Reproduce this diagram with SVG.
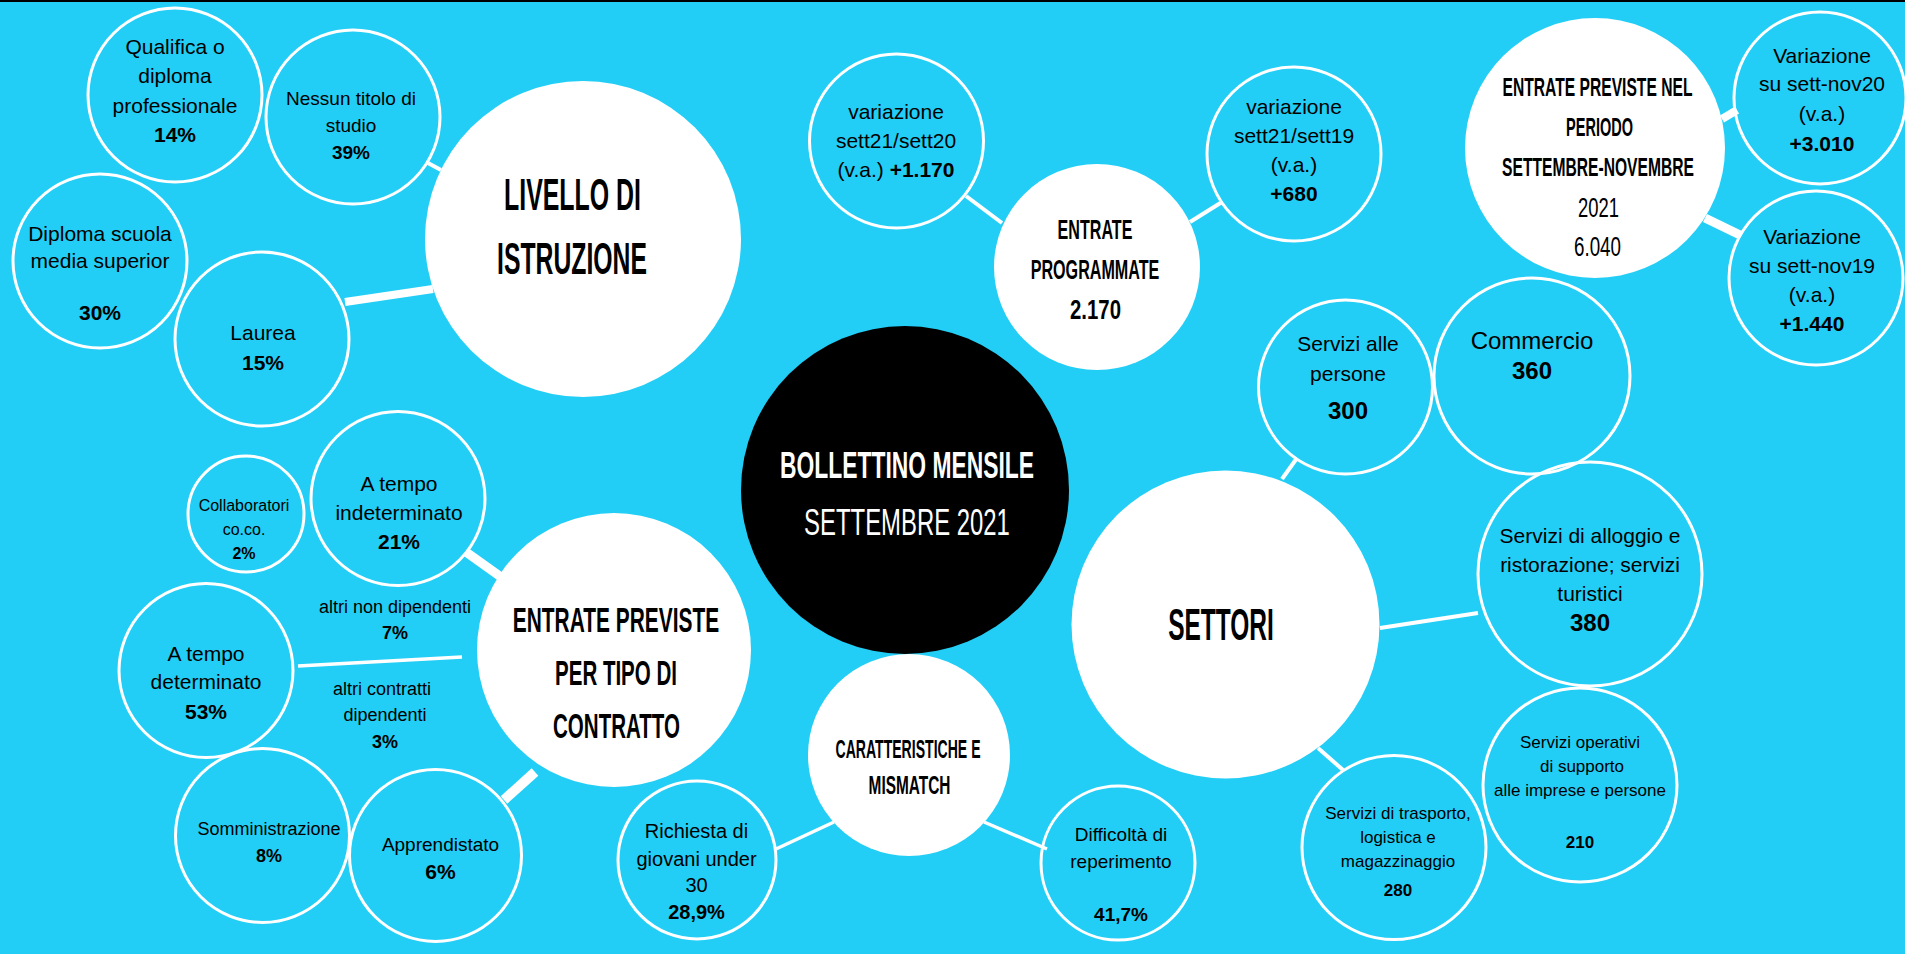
<svg xmlns="http://www.w3.org/2000/svg" width="1905" height="954" viewBox="0 0 1905 954">
<style>
.n{fill:none;stroke:#fff;stroke-width:3}
.w{fill:#fff}
.k{fill:#000}
.c{stroke:#fff;fill:none}
text{font-family:"Liberation Sans",Arial,sans-serif;fill:#000}
.t{text-anchor:middle}
.b{font-weight:bold}
.h{font-family:"Liberation Sans",Arial,sans-serif;font-weight:bold;text-anchor:middle}
.l{font-family:"Liberation Sans",Arial,sans-serif;font-weight:normal;text-anchor:middle}
.wt{fill:#fff}
</style>
<rect x="0" y="0" width="1905" height="954" fill="#22cef6"/>
<rect x="0" y="0" width="1905" height="2" fill="#000"/>
<g id="connectors" class="c">
<line x1="428" y1="163" x2="441" y2="170" stroke-width="4"/>
<line x1="345" y1="302" x2="433" y2="289" stroke-width="8"/>
<line x1="966" y1="196" x2="1002" y2="223" stroke-width="4"/>
<line x1="1190" y1="222" x2="1222" y2="202" stroke-width="4"/>
<line x1="1722" y1="119" x2="1737" y2="110" stroke-width="8"/>
<line x1="1705" y1="218" x2="1740" y2="235" stroke-width="9"/>
<line x1="1282" y1="479" x2="1297" y2="458" stroke-width="4"/>
<line x1="1380" y1="628" x2="1478" y2="613" stroke-width="4"/>
<line x1="1318" y1="748" x2="1343" y2="770" stroke-width="4"/>
<line x1="776" y1="849" x2="834" y2="822" stroke-width="3.5"/>
<line x1="984" y1="822" x2="1047" y2="849" stroke-width="3.5"/>
<line x1="466" y1="552" x2="501" y2="577" stroke-width="9"/>
<line x1="298" y1="666" x2="462" y2="657" stroke-width="3.5"/>
<line x1="504" y1="800" x2="535" y2="772" stroke-width="10"/>
</g>
<g id="bollettino">
<circle cx="905" cy="490" r="164" class="k"/>
<text class="h wt" font-size="36" transform="translate(907 478) scale(0.635 1)">BOLLETTINO MENSILE</text>
<text class="l wt" font-size="37" transform="translate(907 535) scale(0.646 1)">SETTEMBRE 2021</text>
</g>
<g id="livello">
<circle cx="583" cy="239" r="158" class="w"/>
<text class="h" font-size="44" transform="translate(572.5 210) scale(0.566 1)">LIVELLO DI</text>
<text class="h" font-size="44" transform="translate(572 274) scale(0.563 1)">ISTRUZIONE</text>
</g>
<g id="qualifica">
<circle cx="175" cy="95" r="87" class="n"/>
<text class="t" font-size="21"><tspan x="175" y="54">Qualifica o</tspan><tspan x="175" y="83">diploma</tspan><tspan x="175" y="113">professionale</tspan><tspan x="175" y="142" class="b">14%</tspan></text>
</g>
<g id="nessun">
<circle cx="353" cy="117" r="87" class="n"/>
<text class="t" font-size="19"><tspan x="351" y="105">Nessun titolo di</tspan><tspan x="351" y="132">studio</tspan><tspan x="351" y="159" class="b">39%</tspan></text>
</g>
<g id="diploma">
<circle cx="100" cy="261" r="87" class="n"/>
<text class="t" font-size="21"><tspan x="100" y="241">Diploma scuola</tspan><tspan x="100" y="268">media superior</tspan><tspan x="100" y="320" class="b">30%</tspan></text>
</g>
<g id="laurea">
<circle cx="262" cy="339" r="87" class="n"/>
<text class="t" font-size="21"><tspan x="263" y="340">Laurea</tspan><tspan x="263" y="370" class="b">15%</tspan></text>
</g>
<g id="var20">
<circle cx="896.5" cy="141" r="87" class="n"/>
<text class="t" font-size="21"><tspan x="896" y="119">variazione</tspan><tspan x="896" y="148">sett21/sett20</tspan><tspan x="896" y="177">(v.a.) <tspan class="b">+1.170</tspan></tspan></text>
</g>
<g id="programmate">
<circle cx="1097" cy="267" r="103" class="w"/>
<text class="h" font-size="28" transform="translate(1095 239) scale(0.575 1)">ENTRATE</text>
<text class="h" font-size="28" transform="translate(1095 279) scale(0.576 1)">PROGRAMMATE</text>
<text class="h" font-size="28" transform="translate(1095.5 319) scale(0.728 1)">2.170</text>
</g>
<g id="var19">
<circle cx="1294" cy="154" r="87" class="n"/>
<text class="t" font-size="21"><tspan x="1294" y="114">variazione</tspan><tspan x="1294" y="143">sett21/sett19</tspan><tspan x="1294" y="172">(v.a.)</tspan><tspan x="1294" y="201" class="b">+680</tspan></text>
</g>
<g id="periodo">
<circle cx="1595" cy="148" r="130" class="w"/>
<text class="h" font-size="26.5" transform="translate(1597.5 96) scale(0.59 1)">ENTRATE PREVISTE NEL</text>
<text class="h" font-size="26.5" transform="translate(1599.5 136) scale(0.548 1)">PERIODO</text>
<text class="h" font-size="26.5" transform="translate(1598 176) scale(0.59 1)">SETTEMBRE-NOVEMBRE</text>
<text class="l" font-size="28" transform="translate(1598.5 217) scale(0.658 1)">2021</text>
<text class="l" font-size="28" transform="translate(1597.5 256) scale(0.671 1)">6.040</text>
</g>
<g id="nov20">
<circle cx="1820" cy="98" r="86" class="n"/>
<text class="t" font-size="21"><tspan x="1822" y="62.5">Variazione</tspan><tspan x="1822" y="91">su sett-nov20</tspan><tspan x="1822" y="120.5">(v.a.)</tspan><tspan x="1822" y="150.5" class="b">+3.010</tspan></text>
</g>
<g id="nov19">
<circle cx="1816" cy="278" r="87" class="n"/>
<text class="t" font-size="21"><tspan x="1812" y="243.5">Variazione</tspan><tspan x="1812" y="272.5">su sett-nov19</tspan><tspan x="1812" y="301.5">(v.a.)</tspan><tspan x="1812" y="330.5" class="b">+1.440</tspan></text>
</g>
<g id="commercio">
<circle cx="1532" cy="376" r="98" class="n"/>
<text class="t" font-size="24"><tspan x="1532" y="348.5">Commercio</tspan><tspan x="1532" y="378.5" class="b">360</tspan></text>
</g>
<g id="persone">
<circle cx="1345.5" cy="387" r="87" class="n"/>
<text class="t" font-size="21"><tspan x="1348" y="350.5">Servizi alle</tspan><tspan x="1348" y="381">persone</tspan><tspan x="1348" y="419" class="b" font-size="24">300</tspan></text>
</g>
<g id="settori">
<circle cx="1225.5" cy="624.5" r="154" class="w"/>
<text class="h" font-size="44" transform="translate(1221 640) scale(0.556 1)">SETTORI</text>
</g>
<g id="alloggio">
<circle cx="1590" cy="574" r="112" class="n"/>
<text class="t" font-size="21"><tspan x="1590" y="542.5">Servizi di alloggio e</tspan><tspan x="1590" y="571.5">ristorazione; servizi</tspan><tspan x="1590" y="600.5">turistici</tspan><tspan x="1590" y="630.5" class="b" font-size="24">380</tspan></text>
</g>
<g id="operativi">
<circle cx="1580" cy="785" r="97" class="n"/>
<text class="t" font-size="17"><tspan x="1580" y="748">Servizi operativi</tspan><tspan x="1582" y="772">di supporto</tspan><tspan x="1580" y="796">alle imprese e persone</tspan><tspan x="1580" y="848" class="b">210</tspan></text>
</g>
<g id="trasporto">
<circle cx="1394" cy="847.5" r="92" class="n"/>
<text class="t" font-size="17"><tspan x="1398" y="819">Servizi di trasporto,</tspan><tspan x="1398" y="843">logistica e</tspan><tspan x="1398" y="867">magazzinaggio</tspan><tspan x="1398" y="896" class="b">280</tspan></text>
</g>
<g id="difficolta">
<circle cx="1118" cy="863" r="77" class="n"/>
<text class="t" font-size="19"><tspan x="1121" y="841">Difficoltà di</tspan><tspan x="1121" y="868">reperimento</tspan><tspan x="1121" y="920.5" class="b">41,7%</tspan></text>
</g>
<g id="caratteristiche">
<circle cx="909" cy="755" r="101" class="w"/>
<text class="h" font-size="25" transform="translate(908 758) scale(0.563 1)">CARATTERISTICHE E</text>
<text class="h" font-size="25" transform="translate(909.5 793.5) scale(0.616 1)">MISMATCH</text>
</g>
<g id="richiesta">
<circle cx="697" cy="860" r="79" class="n"/>
<text class="t" font-size="20"><tspan x="696.5" y="838">Richiesta di</tspan><tspan x="696.5" y="865.5">giovani under</tspan><tspan x="696.5" y="892">30</tspan><tspan x="696.5" y="919" class="b">28,9%</tspan></text>
</g>
<g id="contratto">
<circle cx="614" cy="650" r="137" class="w"/>
<text class="h" font-size="35" transform="translate(616 632) scale(0.598 1)">ENTRATE PREVISTE</text>
<text class="h" font-size="35" transform="translate(616 685) scale(0.586 1)">PER TIPO DI</text>
<text class="h" font-size="35" transform="translate(616.5 738) scale(0.587 1)">CONTRATTO</text>
</g>
<g id="collaboratori">
<circle cx="246" cy="514" r="58" class="n"/>
<text class="t" font-size="16"><tspan x="244" y="510.5">Collaboratori</tspan><tspan x="244" y="535">co.co.</tspan><tspan x="244" y="558.5" class="b">2%</tspan></text>
</g>
<g id="indeterminato">
<circle cx="398" cy="498.5" r="87" class="n"/>
<text class="t" font-size="21"><tspan x="399" y="491">A tempo</tspan><tspan x="399" y="519.5">indeterminato</tspan><tspan x="399" y="548.5" class="b">21%</tspan></text>
</g>
<g id="determinato">
<circle cx="206" cy="670.5" r="87" class="n"/>
<text class="t" font-size="21"><tspan x="206" y="660.5">A tempo</tspan><tspan x="206" y="689">determinato</tspan><tspan x="206" y="719" class="b">53%</tspan></text>
</g>
<g id="somministrazione">
<circle cx="262.5" cy="835.5" r="87" class="n"/>
<text class="t" font-size="18"><tspan x="269" y="835">Somministrazione</tspan><tspan x="269" y="862" class="b">8%</tspan></text>
</g>
<g id="apprendistato">
<circle cx="435.5" cy="855.5" r="86" class="n"/>
<text class="t" font-size="19"><tspan x="440.5" y="851">Apprendistato</tspan><tspan x="440.5" y="879" class="b" font-size="21">6%</tspan></text>
</g>
<g id="altri">
<text class="t" font-size="18"><tspan x="395" y="612.5">altri non dipendenti</tspan><tspan x="395" y="639" class="b">7%</tspan></text>
<text class="t" font-size="18"><tspan x="382" y="694.5">altri contratti</tspan><tspan x="385" y="721">dipendenti</tspan><tspan x="385" y="747.5" class="b">3%</tspan></text>
</g>
</svg>
